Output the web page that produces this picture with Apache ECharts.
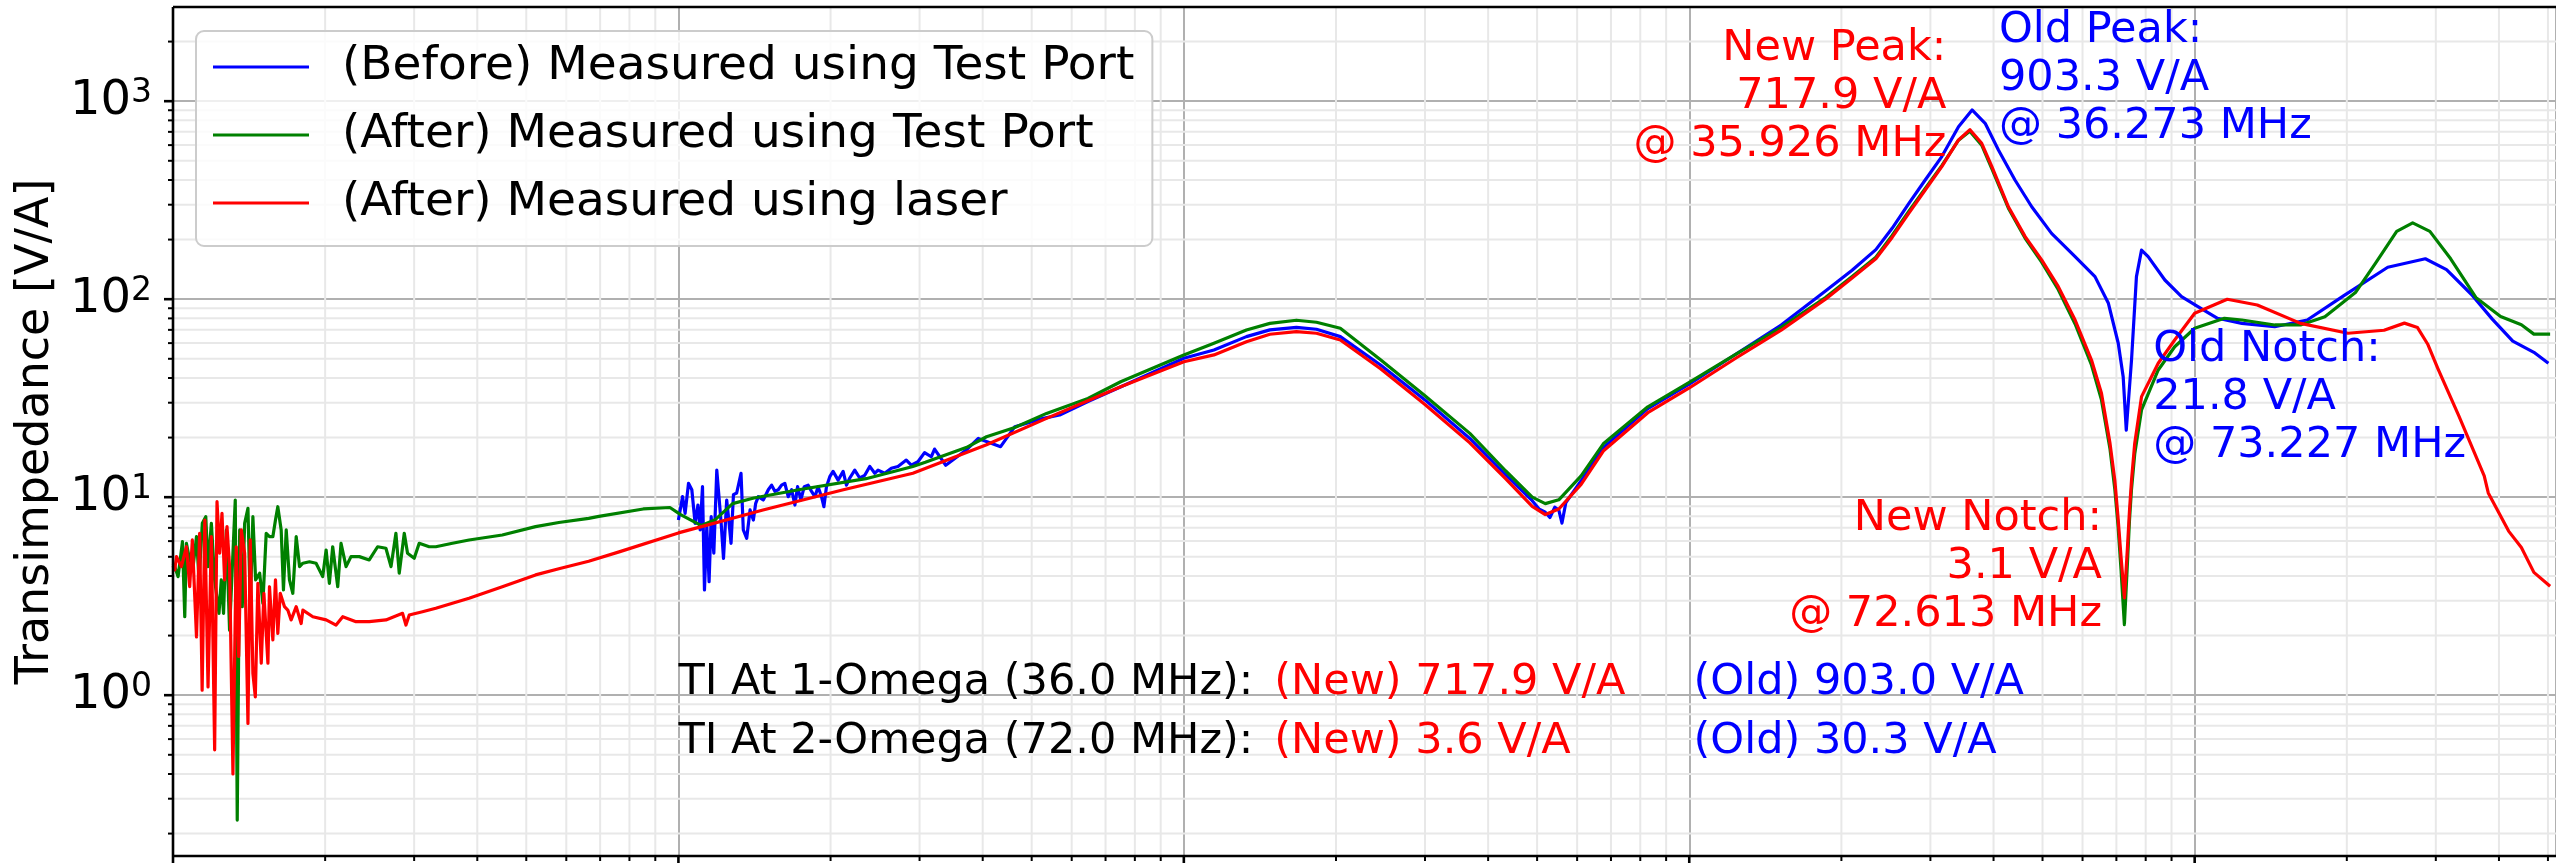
<!DOCTYPE html>
<html>
<head>
<meta charset="utf-8">
<script src="https://cdn.jsdelivr.net/npm/echarts@6/dist/echarts.min.js"></script>
<style>
html,body{margin:0;padding:0;background:#ffffff;}
#chart{width:2556px;height:863px;}
</style>
</head>
<body>
<div id="chart"></div>
<script>
// ---------------- data (frequency in Hz, transimpedance in V/A) ----------------
const seriesNames = [
  '(Before) Measured using Test Port',
  '(After) Measured using Test Port',
  '(After) Measured using laser'
];

const beforeFreq = [100000,101900,103100,104700,106300,107900,109300,110400,111600,112600,113800,115000,116100,117500,119100,120000,121500,122800,124600,125600,127100,128500,130400,133000,134400,136500,138600,140700,142200,143900,147200,150600,152900,155200,157600,160000,162400,164900,167500,170000,172100,174700,177400,180600,183400,186200,189000,191900,194000,196300,199300,202300,207000,211800,215000,218300,223300,228400,233700,239100,244600,248300,255900,263800,271900,282400,288900,297800,306900,316400,321200,338000,371000,392000,434000,463000,527000,568000,646000,778000,1000000,1147000,1330000,1480000,1670000,1830000,2040000,2450000,3000000,3680000,4330000,4890000,5050000,5190000,5300000,5420000,5520000,5600000,5700000,6110000,6760000,8280000,10000000,12400000,15200000,18600000,21000000,23400000,25200000,27200000,29300000,31600000,34100000,36273000,38500000,40900000,44100000,47600000,52100000,58000000,63500000,67500000,70600000,72200000,73227000,75000000,76700000,78500000,80900000,87300000,94200000,101500000,111000000,124000000,144000000,167000000,197000000,241000000,286000000,315000000,353000000,388000000,426000000,469000000,501000000];
const beforeVals = [7.67,10.06,8.29,11.75,10.9,7.38,9.13,6.83,11.3,3.40,7.10,3.74,7.97,5.21,13.7,14.0,7.38,4.91,9.68,7.97,5.85,10.3,10.5,13.2,6.83,6.2,8.62,7.67,9.31,10.06,9.68,10.9,11.5,10.7,10.9,11.5,11.75,10.06,10.9,9.13,11.3,9.68,11.3,11.5,10.7,10.06,11.3,10.06,8.95,11.3,12.7,13.5,12.2,13.5,11.5,12.5,13.7,12.5,12.9,14.3,13.2,13.7,13.2,14.0,14.3,15.4,14.5,15.1,16.8,16.0,17.5,14.5,17.3,19.8,18.0,22.7,25.0,26.0,30.4,37.6,50.3,55.4,64.7,70.0,72.1,70.5,64.7,46.5,31.0,19.8,13.0,9.6,8.7,8.4,7.9,8.9,8.6,7.4,9.4,12.1,17.8,28.0,37.2,53.0,74,110,140,178,228,305,400,525,743,903.3,773,567,400,293,215,164,130,95.3,59.9,40.6,21.8,49.3,130,177,164,125,103,91.6,80.1,75.5,72.6,78.5,104,145,160,141,105.6,79.3,61.4,53.9,47.5];

const afterFreq = [10000,10080,10235,10440,10550,10630,10790,10960,11130,11260,11430,11610,11730,11910,12090,12330,12460,12590,12750,12940,13140,13280,13400,13550,13710,13860,14070,14220,14390,14570,14840,15060,15290,15520,15760,15950,16120,16370,16540,16750,17000,17260,17530,17800,18070,18620,19190,19780,20090,20390,20700,21180,21500,22000,22500,23370,24450,25400,26380,27000,27610,28030,28680,29110,30010,30700,32130,33110,35720,38530,44830,52160,58000,66440,69600,85200,96200,101000,111000,118000,128000,141000,173000,235000,291000,308000,371000,407000,463000,535000,646000,750000,1000000,1147000,1330000,1480000,1670000,1830000,2040000,2450000,3000000,3680000,4330000,4890000,5190000,5520000,6110000,6760000,8280000,10000000,12400000,15200000,18600000,21000000,23400000,25200000,27200000,29300000,31600000,34100000,35900000,37900000,39700000,42800000,46200000,49800000,53700000,58000000,62500000,65400000,68000000,69500000,70500000,71500000,72600000,73600000,74300000,75000000,76100000,78500000,84700000,91300000,100000000,114500000,124000000,144000000,162000000,181000000,208000000,228000000,251000000,270000000,292000000,321000000,360000000,403000000,443000000,469000000,505000000];
const afterVals = [4.6,4.46,3.97,5.96,2.49,5.85,4.82,4.46,6.32,3.82,7.38,7.97,4.46,7.38,3.82,2.59,3.82,2.59,6.83,2.13,5.21,9.68,0.234,6.83,2.80,7.38,8.79,2.80,7.97,3.82,4.13,2.91,6.57,6.32,6.32,7.67,8.95,6.83,3.40,6.83,3.82,3.27,6.32,4.46,4.64,4.72,4.64,3.97,5.41,3.67,5.62,3.53,5.85,4.46,5.01,5.01,4.82,5.62,5.52,4.46,6.57,4.13,6.57,5.21,4.91,5.85,5.62,5.62,5.85,6.08,6.44,7.10,7.45,7.82,8.0,8.72,8.87,8.17,7.19,7.66,9.28,9.90,10.9,12.4,14.3,15.0,17.8,20.2,22.5,26.5,31.5,38.3,52.3,59.9,69.9,75.5,78.3,76.5,71.3,49.5,32.5,21.0,13.6,10.0,9.28,9.7,12.8,18.6,28.6,38.0,53.0,72.0,102,130,163,210,278,362,472,635,705,600,455,288,203,154,112,75,46.5,31,17.5,11.0,7.3,4.3,2.27,4.6,7.6,11.0,16.5,27.6,43.9,57.5,71.3,80.1,78.5,74.1,74.1,81.6,108,152,220,243,220,160,102,81.8,74.3,66.6,66.6];

const laserFreq = [10000,10080,10160,10390,10630,10790,10920,11130,11290,11420,11560,11730,11910,12090,12220,12370,12500,12650,12790,12940,13140,13340,13490,13650,13860,14070,14220,14390,14550,14720,14950,15130,15410,15520,15760,15950,16120,16300,16620,16870,17130,17530,17930,18070,18910,20090,21020,21670,23020,24450,26380,28460,28900,29340,31160,33110,38530,44830,52160,58000,66440,76600,100000,147000,212000,291000,407000,535000,750000,1000000,1147000,1330000,1480000,1670000,1830000,2040000,2450000,3000000,3680000,4330000,4890000,5190000,5520000,6110000,6760000,8280000,10000000,12400000,15200000,18600000,21000000,23400000,25200000,27200000,29300000,31600000,34100000,35926000,37900000,39700000,42800000,46200000,49800000,53700000,58000000,62500000,65400000,68000000,69500000,70500000,71500000,72613000,73600000,74300000,75000000,76100000,78500000,84700000,91300000,100000000,116000000,133000000,162000000,201000000,237000000,260000000,276000000,289000000,303000000,333000000,374000000,381000000,418000000,443000000,469000000,505000000];
const laserVals = [4.5,4.29,5.01,4.46,5.62,3.53,6.08,1.97,6.57,1.06,7.67,1.10,6.32,0.53,9.49,5.21,8.29,3.82,7.10,4.46,0.40,5.62,1.57,6.83,5.21,0.72,6.08,1.29,0.98,3.67,1.45,3.27,1.45,3.53,1.90,3.82,2.05,3.27,2.80,2.69,2.40,2.80,2.30,2.69,2.49,2.40,2.26,2.49,2.35,2.35,2.40,2.59,2.26,2.54,2.64,2.75,3.09,3.53,4.05,4.35,4.75,5.31,6.6,8.62,10.9,13.2,18.4,25.0,36.1,48.3,52.3,61.0,66.5,68.5,67.3,62.2,44.5,29.4,18.8,12.4,8.99,8.17,8.72,11.6,17.1,26.7,35.6,50.6,69.7,100,128,160,205,272,356,467,637,717.9,613,467,293,207,158,116,78.5,49.3,33.5,18.7,12.2,8.0,5.0,3.1,5.5,8.5,12.2,18.7,32.2,47.5,62.2,84.9,99.9,93.5,75.5,67.3,69.7,75.7,71.9,59.4,44.5,25.8,12.8,10.5,6.74,5.57,4.17,3.55];

// ---------------- axes / ticks ----------------
const X_MIN = 1e4, X_MAX = 5.187e8;
const Y_MIN = 0.1541, Y_MAX = 2990;
const xMajorTicks = [1e4, 1e5, 1e6, 1e7, 1e8];
const xMinorTicks = [2e4,3e4,4e4,5e4,6e4,7e4,8e4,9e4, 2e5,3e5,4e5,5e5,6e5,7e5,8e5,9e5, 2e6,3e6,4e6,5e6,6e6,7e6,8e6,9e6, 2e7,3e7,4e7,5e7,6e7,7e7,8e7,9e7, 2e8,3e8,4e8,5e8];
const yMajorTicks = [1, 10, 100, 1000];
const yTickLabelBase = '10';
const yTickLabelExp = ['0', '1', '2', '3'];
const yMinorTicks = [0.2,0.3,0.4,0.5,0.6,0.7,0.8,0.9, 2,3,4,5,6,7,8,9, 20,30,40,50,60,70,80,90, 200,300,400,500,600,700,800,900, 2000];

// ---------------- annotation texts ----------------
const annotations = [
  { text: 'New Peak:\n717.9 V/A\n@ 35.926 MHz', color: '#ff0000', align: 'right', at: [3.226e7, 1050] },
  { text: 'Old Peak:\n903.3 V/A\n@ 36.273 MHz', color: '#0000ff', align: 'left', at: [4.1e7, 1295] },
  { text: 'Old Notch:\n21.8 V/A\n@ 73.227 MHz', color: '#0000ff', align: 'left', at: [8.28e7, 31.7] },
  { text: 'New Notch:\n3.1 V/A\n@ 72.613 MHz', color: '#ff0000', align: 'right', at: [6.555e7, 4.47] },
  { text: 'TI At 1-Omega (36.0 MHz):', color: '#000000', align: 'left', at: [1.0e5, 1.158] },
  { text: 'TI At 2-Omega (72.0 MHz):', color: '#000000', align: 'left', at: [1.0e5, 0.580] },
  { text: '(New) 717.9 V/A', color: '#ff0000', align: 'left', at: [1.51e6, 1.158] },
  { text: '(New) 3.6 V/A', color: '#ff0000', align: 'left', at: [1.51e6, 0.580] },
  { text: '(Old) 903.0 V/A', color: '#0000ff', align: 'left', at: [1.02e7, 1.158] },
  { text: '(Old) 30.3 V/A', color: '#0000ff', align: 'left', at: [1.02e7, 0.580] }
];

// ---------------- build ----------------
const FONT = 'DejaVu Sans';
function pairs(fs, vs) { return fs.map((f, i) => [f, vs[i]]); }

function lineSeries(name, color, fs, vs) {
  return {
    name: name, type: 'line', data: pairs(fs, vs), symbol: 'none', showSymbol: false,
    sampling: null, z: 3, animation: false,
    lineStyle: { color: color, width: 3.2, join: 'round' },
    itemStyle: { color: color },
    emphasis: { disabled: true }
  };
}

function minorGridX(params, api) {
  const cs = params.coordSys;
  const x = api.coord([api.value(0), api.value(1)])[0];
  return { type: 'line', shape: { x1: x, y1: cs.y, x2: x, y2: cs.y + cs.height },
           style: { stroke: '#e8e8e8', lineWidth: 2 } };
}
function minorGridY(params, api) {
  const cs = params.coordSys;
  const y = api.coord([api.value(0), api.value(1)])[1];
  return { type: 'line', shape: { x1: cs.x, y1: y, x2: cs.x + cs.width, y2: y },
           style: { stroke: '#e8e8e8', lineWidth: 2 } };
}
function tickX(len, w) {
  return function (params, api) {
    const cs = params.coordSys;
    const x = api.coord([api.value(0), api.value(1)])[0];
    const yb = cs.y + cs.height;
    return { type: 'line', shape: { x1: x, y1: yb, x2: x, y2: yb + len }, style: { stroke: '#000', lineWidth: w } };
  };
}
function tickY(len, w) {
  return function (params, api) {
    const cs = params.coordSys;
    const y = api.coord([api.value(0), api.value(1)])[1];
    return { type: 'line', shape: { x1: cs.x - len, y1: y, x2: cs.x, y2: y }, style: { stroke: '#000', lineWidth: w } };
  };
}
function spines(params, api) {
  const cs = params.coordSys;
  const st = { stroke: '#000', lineWidth: 2.6 };
  return { type: 'group', children: [
    { type: 'line', shape: { x1: cs.x, y1: cs.y, x2: cs.x + cs.width, y2: cs.y }, style: st },
    { type: 'line', shape: { x1: cs.x, y1: cs.y, x2: cs.x, y2: cs.y + cs.height }, style: st },
    { type: 'line', shape: { x1: cs.x, y1: cs.y + cs.height, x2: cs.x + cs.width, y2: cs.y + cs.height }, style: st }
  ] };
}
function customSeries(name, data, fn, z) {
  return { name: name, type: 'custom', coordinateSystem: 'cartesian2d', data: data, renderItem: fn,
           z: z, clip: false, silent: true, animation: false };
}

const option = {
  animation: false,
  backgroundColor: '#ffffff',
  grid: { left: 173, right: -6, top: 7, bottom: 7, containLabel: false },
  legend: {
    data: seriesNames, orient: 'vertical', left: 196, top: 31,
    padding: [11, 18, 18, 17], itemGap: 18, itemWidth: 96, itemHeight: 3, icon: 'rect',
    backgroundColor: 'rgba(255,255,255,0.8)', borderColor: '#cccccc', borderWidth: 2, borderRadius: 8,
    selectedMode: false,
    textStyle: { fontSize: 47, fontFamily: FONT, color: '#000', lineHeight: 50, padding: [0, 0, 0, 28] }
  },
  xAxis: {
    type: 'log', logBase: 10, min: X_MIN, max: X_MAX,
    axisLine: { show: false }, axisTick: { show: false }, axisLabel: { show: false },
    splitLine: { show: true, lineStyle: { color: '#b0b0b0', width: 2 } },
    minorTick: { show: false }, minorSplitLine: { show: false }
  },
  yAxis: {
    type: 'log', logBase: 10, min: Y_MIN, max: Y_MAX,
    name: 'Transimpedance [V/A]', nameLocation: 'middle', nameGap: 109,
    nameTextStyle: { fontSize: 46, fontFamily: FONT, color: '#000' },
    axisLine: { show: false }, axisTick: { show: false },
    axisLabel: {
      show: true, margin: 21,
      formatter: function (v) {
        const e = Math.log10(v);
        const r = Math.round(e);
        if (Math.abs(e - r) > 1e-6) return '';
        const i = yMajorTicks.indexOf(Math.pow(10, r));
        if (i < 0) return '';
        return '{b|' + yTickLabelBase + '}{s|' + yTickLabelExp[i] + '}';
      },
      rich: {
        b: { fontSize: 48, fontFamily: FONT, color: '#000', lineHeight: 48 },
        s: { fontSize: 33, fontFamily: FONT, color: '#000', lineHeight: 24, verticalAlign: 'top' }
      }
    },
    splitLine: { show: true, lineStyle: { color: '#b0b0b0', width: 2 } },
    minorTick: { show: false }, minorSplitLine: { show: false }
  },
  series: [
    customSeries('minorX', xMinorTicks.map(f => [f, 1]), minorGridX, 1),
    customSeries('minorY', yMinorTicks.map(v => [1e5, v]), minorGridY, 1),
    lineSeries(seriesNames[0], '#0000ff', beforeFreq, beforeVals),
    lineSeries(seriesNames[1], '#008000', afterFreq, afterVals),
    lineSeries(seriesNames[2], '#ff0000', laserFreq, laserVals),
    customSeries('spines', [[1e5, 1]], spines, 8),
    customSeries('xMajorTicks', xMajorTicks.map(f => [f, 1]), tickX(9, 2.6), 8),
    customSeries('xMinorTicks', xMinorTicks.map(f => [f, 1]), tickX(5, 2), 8),
    customSeries('yMajorTicks', yMajorTicks.map(v => [1e5, v]), tickY(9, 2.6), 8),
    customSeries('yMinorTicks', yMinorTicks.map(v => [1e5, v]), tickY(5, 2), 8)
  ]
};

const chart = echarts.init(document.getElementById('chart'), null, { renderer: 'canvas', width: 2556, height: 863 });
chart.setOption(option);

const graphics = annotations.map(function (a) {
  const p = chart.convertToPixel({ gridIndex: 0 }, a.at);
  return {
    type: 'text', x: p[0], y: p[1], z: 100, silent: true,
    style: { text: a.text, fill: a.color, fontSize: 43, fontFamily: FONT,
             align: a.align, verticalAlign: 'middle', lineHeight: 48 }
  };
});
chart.setOption({ graphic: graphics });
</script>
</body>
</html>
